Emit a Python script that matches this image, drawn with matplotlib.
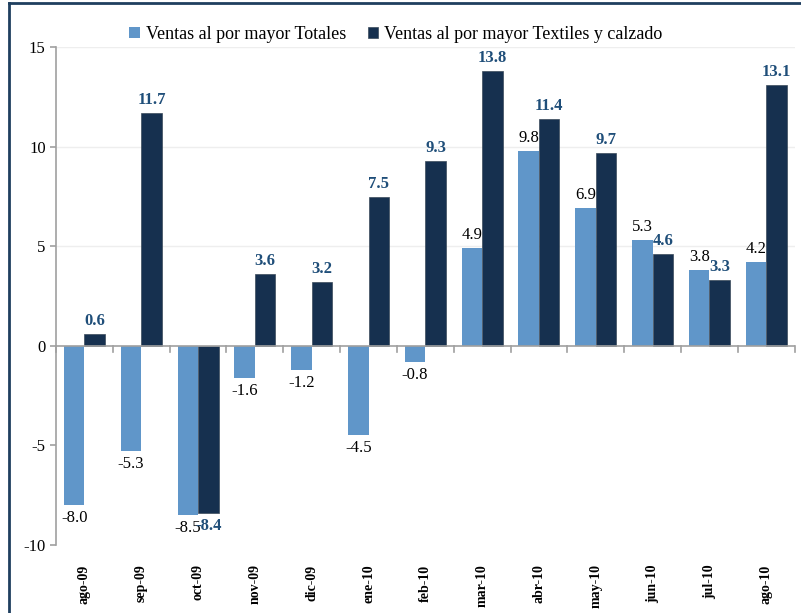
import numpy as np
import matplotlib.pyplot as plt
from matplotlib.lines import Line2D

# months and growth rates (%)
months = ["ago-09", "sep-09", "oct-09", "nov-09", "dic-09", "ene-10", "feb-10",
          "mar-10", "abr-10", "may-10", "jun-10", "jul-10", "ago-10"]
totales = [-8.0, -5.3, -8.5, -1.6, -1.2, -4.5, -0.8, 4.9, 9.8, 6.9, 5.3, 3.8, 4.2]
textiles = [0.6, 11.7, -8.4, 3.6, 3.2, 7.5, 9.3, 13.8, 11.4, 9.7, 4.6, 3.3, 13.1]

plt.rcParams['font.family'] = ['Liberation Serif', 'DejaVu Serif']

light = "#6096C9"
dark = "#16304F"
lblue = "#1F4E79"

fig = plt.figure(figsize=(8.01, 6.13), dpi=100)
ax = fig.add_axes([0.070, 0.111, 0.922, 0.812])

x = np.arange(len(months))
w = 0.36
ax.bar(x - w / 2, totales, w, color=light, label="Ventas al por mayor Totales")
ax.bar(x + w / 2, textiles, w, color=dark, edgecolor="#3a4a5a", linewidth=0.5,
       label="Ventas al por mayor Textiles y calzado")

for xi, v in zip(x, totales):
    off = 0.25 if v >= 0 else -0.25
    ax.text(xi - w / 2, v + off, "%.1f" % v, ha="center",
            va="bottom" if v >= 0 else "top", fontsize=12, color="black")
for xi, v in zip(x, textiles):
    off = 0.25 if v >= 0 else -0.25
    ax.text(xi + w / 2, v + off, "%.1f" % v, ha="center",
            va="bottom" if v >= 0 else "top", fontsize=12, color=lblue,
            fontweight="bold")

ax.set_xlim(-0.5, len(months) - 0.5)
ax.set_ylim(-10, 15)
ax.set_yticks([-10, -5, 0, 5, 10, 15])
ax.set_yticklabels(["-10", "-5", "0", "5", "10", "15"], fontsize=12)
for y in [5, 10, 15]:
    ax.axhline(y, color="#eeeeee", linewidth=1, zorder=0)

# category axis drawn at zero
ax.axhline(0, color="#a0a0a0", linewidth=1.2, zorder=3)
for b in np.arange(-0.5, len(months), 1.0):
    ax.plot([b, b], [0, -0.3], color="#a0a0a0", linewidth=1.2, zorder=3, clip_on=False)

ax.set_xticks(x)
ax.set_xticklabels(months, rotation=90, fontsize=10, fontweight="bold")
ax.tick_params(axis="x", length=0, pad=14)
ax.tick_params(axis="y", length=4, color="#a0a0a0", width=1.2)
for s in ["top", "right", "bottom"]:
    ax.spines[s].set_visible(False)
ax.spines["left"].set_color("#a0a0a0")
ax.spines["left"].set_linewidth(1.2)

ax.legend(loc="upper center", bbox_to_anchor=(0.46, 1.075), ncol=2, frameon=False,
          fontsize=13, handlelength=0.6, handleheight=0.6, handletextpad=0.3,
          columnspacing=1.2)

# outer frame lines
fig.add_artist(Line2D([0.011, 0.011], [0, 0.995], transform=fig.transFigure,
                      color="#1F3F5F", linewidth=2))
fig.add_artist(Line2D([0.011, 1], [0.995, 0.995], transform=fig.transFigure,
                      color="#1F3F5F", linewidth=2))

fig.savefig("out.png", dpi=100)
